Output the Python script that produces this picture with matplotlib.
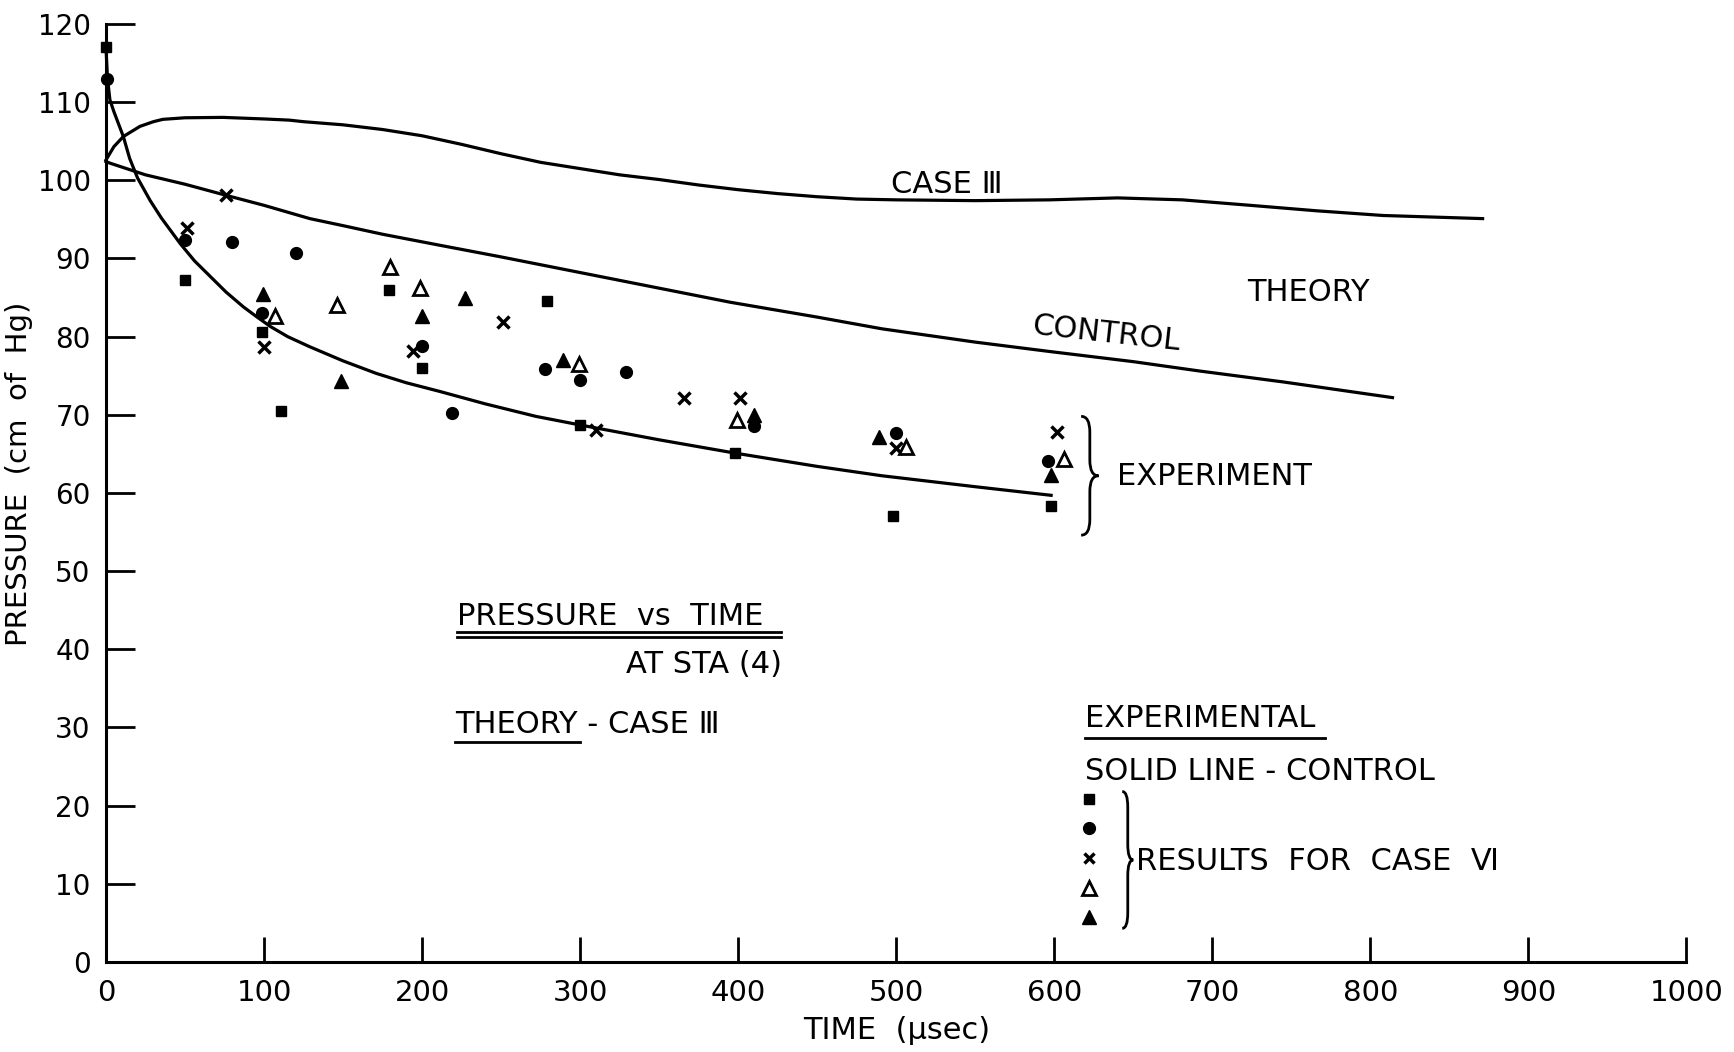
import matplotlib
matplotlib.use("Agg")
import matplotlib.pyplot as plt
from matplotlib.path import Path
from matplotlib.patches import PathPatch

# theory curves
case3_t = [0, 5, 11, 21.5, 30, 36, 50, 74, 100, 116, 125, 150, 175, 200, 225, 250, 275, 300, 325, 350,
           375, 400, 425, 450, 475, 500, 550, 597, 640, 681, 724, 766, 808, 871]
case3_p = [102.6, 104.3, 105.6, 106.9, 107.5, 107.8, 108.0, 108.05, 107.85, 107.7, 107.5, 107.1, 106.5, 105.7,
           104.6, 103.4, 102.3, 101.5, 100.7, 100.1, 99.4, 98.8, 98.3, 97.9, 97.6, 97.5, 97.4, 97.5, 97.75,
           97.5, 96.8, 96.1, 95.5, 95.1]

control_t = [0, 2.5, 25, 50, 75.6, 100, 129, 150, 175, 211, 250, 300, 350, 395, 450, 491, 550, 597, 650,
             692, 745, 814]
control_p = [102.4, 102.2, 100.7, 99.5, 98.1, 96.8, 95.1, 94.2, 93.1, 91.7, 90.2, 88.2, 86.2, 84.4, 82.5,
             81.0, 79.3, 78.1, 76.8, 75.6, 74.2, 72.2]

# experimental solid line (control)
exp_t = [0, 1, 2.5, 5, 8, 11, 15, 20, 28, 35, 47, 56, 66, 76, 87, 95, 104, 115, 129, 150, 171, 190, 211,
         240, 272, 300, 350, 398, 450, 491, 550, 598]
exp_p = [117.0, 113.0, 110.3, 108.8, 107.2, 105.6, 102.8, 100.3, 97.4, 95.2, 91.9, 89.7, 87.7, 85.7, 83.8,
         82.6, 81.3, 80.0, 78.7, 76.9, 75.3, 74.1, 73.0, 71.4, 69.8, 68.7, 66.8, 65.1, 63.4, 62.2, 60.8, 59.7]

# experiment points (case VI)
sq_t = [0, 50, 99, 111, 179, 200, 279, 300, 398, 498, 598]
sq_p = [117.1, 87.2, 80.6, 70.5, 86.0, 76.0, 84.6, 68.7, 65.1, 57.1, 58.3]
ci_t = [0.5, 50, 80, 120, 99, 200, 219, 278, 300, 329, 410, 500, 596]
ci_p = [113.0, 92.3, 92.1, 90.7, 83.0, 78.8, 70.2, 75.9, 74.4, 75.5, 68.6, 67.7, 64.1]
cr_t = [51, 76, 100, 194, 251, 310, 366, 401, 500, 602]
cr_p = [93.9, 98.1, 78.7, 78.1, 81.9, 68.1, 72.1, 72.2, 65.8, 67.8]
ot_t = [107, 146, 180, 199, 299, 399, 506, 606]
ot_p = [82.6, 84.0, 88.9, 86.2, 76.5, 69.3, 65.9, 64.4]
ft_t = [99.5, 149, 200, 227, 289, 410, 489, 598]
ft_p = [85.4, 74.3, 82.6, 84.9, 77.0, 70.0, 67.1, 62.3]

xticks = [0, 100, 200, 300, 400, 500, 600, 700, 800, 900, 1000]
yticks = [0, 10, 20, 30, 40, 50, 60, 70, 80, 90, 100, 110, 120]

plt.rcParams['font.family'] = ['DejaVu Sans']

fig = plt.figure(figsize=(17.34, 10.52), dpi=100)
ax = fig.add_axes([0.0611, 0.0856, 0.9115, 0.8916])

lw = 2.3
ax.plot(case3_t, case3_p, color='black', lw=lw, clip_on=False)
ax.plot(control_t, control_p, color='black', lw=lw, clip_on=False)
ax.plot(exp_t, exp_p, color='black', lw=lw, clip_on=False)

mk = dict(linestyle='none', color='black', clip_on=False, zorder=3)
ax.plot(sq_t, sq_p, marker='s', ms=7.5, **mk)
ax.plot(ci_t, ci_p, marker='o', ms=8.5, **mk)
ax.plot(cr_t, cr_p, marker='x', ms=8, mew=2.5, **mk)
ax.plot(ot_t, ot_p, marker='^', ms=9.5, mfc='white', mew=2, **mk)
ax.plot(ft_t, ft_p, marker='^', ms=10, **mk)

ax.set_xlim(0, 1000)
ax.set_ylim(0, 120)
ax.set_xticks(xticks)
ax.set_yticks(yticks)
for s in ['top', 'right']:
    ax.spines[s].set_visible(False)
for s in ['left', 'bottom']:
    ax.spines[s].set_linewidth(2.2)
ax.tick_params(axis='y', direction='in', length=21, width=2, labelsize=20, pad=11)
ax.tick_params(axis='x', direction='in', length=18, width=2, labelsize=21, pad=12)

ax.set_xlabel('TIME  (μsec)', fontsize=22)
ax.xaxis.set_label_coords(0.5, -0.058)
ax.set_ylabel('PRESSURE  (cm  of  Hg)', fontsize=21)
ax.yaxis.set_label_coords(-0.046, 0.52)

fs = 22
ax.text(497, 98.4, 'CASE Ⅲ', fontsize=fs, ha='left', va='baseline')
ax.text(722, 84.5, 'THEORY', fontsize=fs, ha='left', va='baseline')
ax.text(633, 80.4, 'CONTROL', fontsize=fs, ha='center', va='center', rotation=-6.3)
ax.text(639.5, 61.0, 'EXPERIMENT', fontsize=fs, ha='left', va='baseline')

ax.text(222, 43.1, 'PRESSURE  vs  TIME', fontsize=fs, ha='left', va='baseline')
ax.plot([222, 427], [42.2, 42.2], color='black', lw=2, clip_on=False)
ax.plot([222, 427], [41.6, 41.6], color='black', lw=2, clip_on=False)
ax.text(428, 37.0, 'AT STA (4)', fontsize=fs, ha='right', va='baseline')
ax.text(221, 29.3, 'THEORY - CASE Ⅲ', fontsize=fs, ha='left', va='baseline')
ax.plot([221, 300], [28.2, 28.2], color='black', lw=2, clip_on=False)

ax.text(619.5, 30.1, 'EXPERIMENTAL', fontsize=fs, ha='left', va='baseline')
ax.plot([619.5, 771], [28.6, 28.6], color='black', lw=2, clip_on=False)
ax.text(619.5, 23.3, 'SOLID LINE - CONTROL', fontsize=fs, ha='left', va='baseline')
ax.plot([622], [20.9], marker='s', ms=7.5, **mk)
ax.plot([622], [17.1], marker='o', ms=8.5, **mk)
ax.plot([622], [13.3], marker='x', ms=7, mew=2.5, **mk)
ax.plot([622], [9.4], marker='^', ms=9.5, mfc='white', mew=2, **mk)
ax.plot([622], [5.8], marker='^', ms=10, **mk)
ax.text(652, 11.8, 'RESULTS  FOR  CASE  Ⅵ', fontsize=fs, ha='left', va='baseline')


def brace(x, y0, y1, w, d):
    xm = x + w * 0.5
    xr = x + w
    ym = (y0 + y1) / 2
    verts = [(x, y1), (xm, y1), (xm, y1 - d), (xm, ym + d), (xm, ym), (xr, ym),
             (xm, ym), (xm, ym - d), (xm, y0 + d), (xm, y0), (x, y0)]
    codes = [Path.MOVETO, Path.CURVE3, Path.CURVE3, Path.LINETO, Path.CURVE3, Path.CURVE3,
             Path.CURVE3, Path.CURVE3, Path.LINETO, Path.CURVE3, Path.CURVE3]
    ax.add_patch(PathPatch(Path(verts, codes), fill=False, lw=2, color='black', clip_on=False))


brace(617, 54.6, 69.8, 11, 2.0)
brace(643, 4.3, 21.8, 7, 2.0)

fig.savefig('out.png', dpi=100)
